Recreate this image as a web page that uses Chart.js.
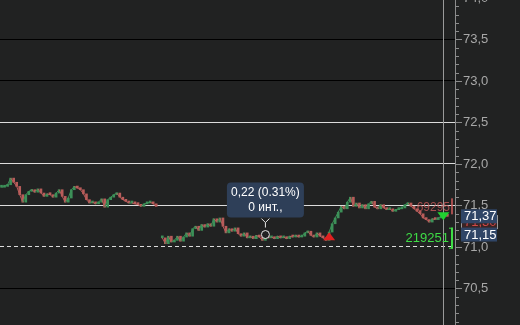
<!DOCTYPE html>
<html>
<head>
<meta charset="utf-8">
<title>Chart</title>
<script src="https://cdn.jsdelivr.net/npm/chart.js@4.4.1/dist/chart.umd.min.js"></script>
<style>
    html, body { margin: 0; padding: 0; background: #212222; overflow: hidden; }
    #wrap { position: absolute; left: 0; top: -4px; width: 520px; height: 333px; }
</style>
</head>
<body>
<div id="wrap"><canvas id="chart"></canvas></div>
<script>

    // closing prices, three sessions
    const session1 = [
        71.72, 71.73, 71.75, 71.83, 71.78, 71.73, 71.63, 71.54, 71.63, 71.67,
        71.69, 71.66, 71.70, 71.65, 71.61, 71.64, 71.63, 71.60, 71.65, 71.69,
        71.61, 71.54, 71.59, 71.69, 71.73, 71.71, 71.69, 71.64, 71.57, 71.53,
        71.54, 71.52, 71.54, 71.58, 71.48, 71.57, 71.60, 71.63, 71.65, 71.60,
        71.57, 71.55, 71.53, 71.53, 71.52, 71.51, 71.49, 71.52, 71.53, 71.54,
        71.52, 71.49
    ]
    const session2 = [
        71.11, 71.04, 71.13, 71.06, 71.08, 71.13, 71.07, 71.12, 71.17, 71.13,
        71.22, 71.25, 71.20, 71.27, 71.24, 71.28, 71.25, 71.34, 71.30, 71.35,
        71.25, 71.17, 71.22, 71.19, 71.23, 71.16, 71.13, 71.17, 71.11, 71.13,
        71.10, 71.14, 71.12, 71.08, 71.13, 71.11, 71.12, 71.10, 71.13, 71.11,
        71.12, 71.10, 71.13, 71.12, 71.14, 71.12, 71.13, 71.17, 71.19, 71.14,
        71.12, 71.17, 71.13, 71.11, 71.08
    ]
    const session3 = [
        71.18, 71.28, 71.35, 71.42, 71.49, 71.46, 71.54, 71.60, 71.49, 71.53,
        71.47, 71.51, 71.46, 71.52, 71.55, 71.48, 71.46, 71.51, 71.47, 71.45,
        71.46, 71.43, 71.45, 71.46, 71.47, 71.51, 71.53, 71.49, 71.46, 71.43,
        71.40, 71.35, 71.33, 71.30, 71.34, 71.33, 71.35, 71.37, 71.39, 71.37
    ]

    const closes = [...session1, null, ...session2, ...session3, null, null]
    const labels = closes.map((c, i) => i)

    const whiteLevels = [71.5, 72.0, 72.5]
    const blackLevels = [70.5, 73.0, 73.5]
    const dashedLevel = 71.0

    const lastPrice = 71.37
    const markPrice = 71.15
    const hiddenPrice = 71.30
    const tipLines = ['0,22 (0.31%)', '0 инт.,']
    const tipIndex = 87
    const buyIndex = 108, buyPrice = 71.08
    const sellIndex = 146
    const volUp = '219251'
    const volDown = '69295'

    const GREEN = '#3c9058'
    const RED = '#b85c5a'

    const same = (a, b) => Math.abs(a - b) < 1e-6
    const tickVal = ctx => ctx.tick ? ctx.tick.value : NaN

    const bodies = closes.map((c, i) => c == null ? null : [closes[i - 1] ?? c, c])
    const colors = closes.map((c, i) => (c != null && closes[i - 1] != null && c < closes[i - 1]) ? RED : GREEN)

    function axisBox(ctx, x, y, text, fill, stroke, color) {
        ctx.fillStyle = fill
        ctx.fillRect(x, y - 7, 36, 14)
        if (stroke) { ctx.strokeStyle = stroke; ctx.strokeRect(x + 0.5, y - 6.5, 36, 13) }
        ctx.fillStyle = color
        ctx.textAlign = 'left'
        ctx.textBaseline = 'middle'
        ctx.fillText(text, x + 3, y + 0.5)
    }

    const overlays = {
        id: 'overlays',
        afterDraw(chart) {
            const ctx = chart.ctx
            const xs = chart.scales.x, ys = chart.scales.y
            const area = chart.chartArea
            ctx.save()

            // minor / major tick marks on the price axis
            ctx.strokeStyle = '#8c8c8c'
            ctx.lineWidth = 1
            ys.ticks.forEach(t => {
                const y = Math.round(ys.getPixelForValue(t.value)) + 0.5
                const major = same(t.value * 2, Math.round(t.value * 2))
                ctx.beginPath()
                ctx.moveTo(area.right, y)
                ctx.lineTo(area.right + (major ? 7 : 4), y)
                ctx.stroke()
            })

            // cursor line
            const cx = Math.round(xs.getPixelForValue(sellIndex)) - 0.5
            ctx.strokeStyle = '#9a9a9a'
            ctx.beginPath(); ctx.moveTo(cx, 0); ctx.lineTo(cx, chart.height); ctx.stroke()

            ctx.font = '12px "Liberation Sans", Arial, sans-serif'

            // volume labels
            const yUp = ys.getPixelForValue(71.10)
            const yDn = ys.getPixelForValue(71.49)
            ctx.textAlign = 'right'
            ctx.textBaseline = 'middle'
            ctx.fillStyle = 'rgba(200,90,90,0.8)'
            ctx.fillText(volDown, area.right - 5, yDn + 1)
            ctx.fillRect(area.right - 4, yDn - 8, 2, 16)
            ctx.fillStyle = '#3edc46'
            ctx.font = '13px "Liberation Sans", Arial, sans-serif'
            ctx.fillText(volUp, area.right - 6, yUp)
            ctx.fillRect(area.right - 4, yUp - 11, 2, 21)
            ctx.fillRect(area.right - 6, yUp - 11, 4, 1)
            ctx.fillRect(area.right - 6, yUp + 9, 4, 1)

            // buy / sell triangles
            const bx = xs.getPixelForValue(buyIndex), by = ys.getPixelForValue(buyPrice)
            ctx.fillStyle = '#e02020'
            ctx.beginPath(); ctx.moveTo(bx - 6, by); ctx.lineTo(bx + 6, by); ctx.lineTo(bx, by - 8); ctx.closePath(); ctx.fill()
            const sx = xs.getPixelForValue(sellIndex) - 1, sy = ys.getPixelForValue(lastPrice)
            ctx.fillStyle = '#20d030'
            ctx.beginPath(); ctx.moveTo(sx - 6, sy - 4); ctx.lineTo(sx + 6, sy - 4); ctx.lineTo(sx, sy + 4); ctx.closePath(); ctx.fill()

            // measurement tooltip
            const tx = xs.getPixelForValue(tipIndex), ty = ys.getPixelForValue(markPrice)
            ctx.strokeStyle = '#e6e6e6'
            ctx.lineWidth = 1
            ctx.fillStyle = '#212222'
            ctx.beginPath(); ctx.arc(tx, ty, 4, 0, Math.PI * 2); ctx.fill(); ctx.stroke()
            ctx.beginPath()
            ctx.moveTo(tx - 4, ty - 16); ctx.lineTo(tx, ty - 12); ctx.lineTo(tx + 4, ty - 16)
            ctx.moveTo(tx, ty - 12); ctx.lineTo(tx, ty - 7)
            ctx.stroke()
            const bw = 77, bh = 35, bxl = tx - bw / 2, byt = ty - 17 - bh
            ctx.fillStyle = '#2e3f58'
            ctx.beginPath(); ctx.roundRect(bxl, byt, bw, bh, 4); ctx.fill()
            ctx.fillStyle = '#ffffff'
            ctx.textAlign = 'center'
            ctx.font = '12px "Liberation Sans", Arial, sans-serif'
            ctx.fillText(tipLines[0], tx, byt + 10)
            ctx.fillText(tipLines[1], tx, byt + 25)

            // price boxes on the axis
            ctx.font = '13px "Liberation Sans", Arial, sans-serif'
            const ax = area.right + 6
            axisBox(ctx, ax, ys.getPixelForValue(hiddenPrice), '71,30', '#3a2424', '#9a9a9a', '#d04848')
            axisBox(ctx, ax, ys.getPixelForValue(lastPrice), '71,37', '#2f4566', null, '#ffffff')
            axisBox(ctx, ax, ys.getPixelForValue(markPrice), '71,15', '#2f4566', null, '#ffffff')

            ctx.restore()
        }
    }

    const ctx = document.getElementById('chart')

    new Chart(ctx, {
        data: {
            labels: labels,
            datasets: [{
                type: 'line',
                data: closes,
                borderWidth: 1,
                pointRadius: 0,
                spanGaps: false,
                borderColor: '#6f7a5e',
                segment: {
                    borderColor: s => s.p1.parsed.y < s.p0.parsed.y ? RED : GREEN
                }
            }, {
                type: 'bar',
                data: bodies,
                backgroundColor: colors,
                barThickness: 2,
                minBarLength: 2,
                borderWidth: 0
            }]
        },
        options: {
            responsive: true,
            maintainAspectRatio: false,
            animation: false,
            layout: { padding: 0 },
            plugins: { legend: { display: false }, tooltip: { enabled: false } },
            scales: {
                x: { display: false, offset: true },
                y: {
                    position: 'right',
                    min: 70.012,
                    max: 74.024,
                    afterFit: scale => { scale.width = 65; scale.paddingTop = 0; scale.paddingBottom = 0 },
                    border: {
                        color: '#8c8c8c',
                        dash: c => same(tickVal(c), dashedLevel) ? [4, 3] : []
                    },
                    grid: {
                        drawTicks: false,
                        color: c => {
                            const v = tickVal(c)
                            if (whiteLevels.some(l => same(l, v)) || same(v, dashedLevel)) return '#dcdcdc'
                            if (blackLevels.some(l => same(l, v))) return '#000000'
                            return 'rgba(0,0,0,0)'
                        }
                    },
                    ticks: {
                        stepSize: 0.1,
                        includeBounds: false,
                        autoSkip: false,
                        padding: 8,
                        color: '#a8a8a8',
                        font: { size: 13, family: '"Liberation Sans", Arial, sans-serif' },
                        callback: v => same(v * 2, Math.round(v * 2)) ? v.toFixed(1).replace('.', ',') : ''
                    }
                }
            }
        },
        plugins: [overlays]
    });

</script>
</body>
</html>
